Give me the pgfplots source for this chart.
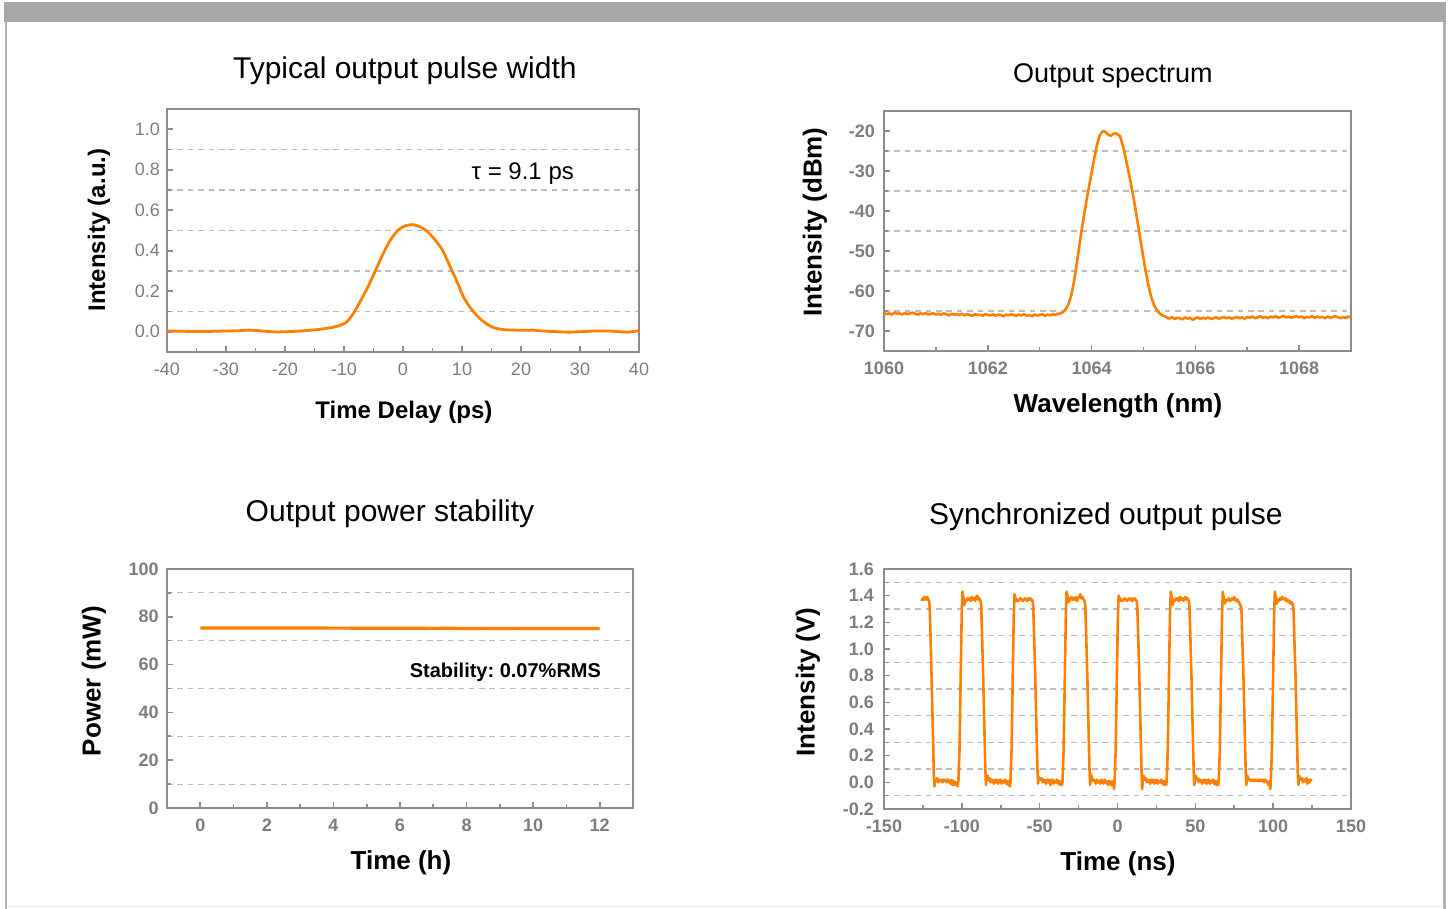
\documentclass[border=0pt]{standalone}
\usepackage{fontspec}
\setmainfont{Liberation Sans}
\usepackage{pgfplots}
\pgfplotsset{compat=1.18}
\definecolor{orng}{RGB}{255,128,0}
\definecolor{axgray}{RGB}{140,140,140}
\definecolor{lblgray}{RGB}{125,125,125}
\definecolor{gridgray}{RGB}{188,188,188}
\definecolor{bargray}{RGB}{168,168,168}
\definecolor{bordgray}{RGB}{178,178,178}

\pgfplotsset{
  panel/.style={
    scale only axis,
    axis line style={axgray, line width=0.9pt},
    tick style={axgray, line width=0.8pt},
    major tick length=3pt, minor tick length=2pt,
    tick align=inside,
    tick pos=left,
    minor tick num=1,
    yminorgrids=true,
    minor y grid style={gridgray, line width=0.55pt, dash pattern=on 2.8pt off 2.4pt},
    /pgf/number format/assume math mode=true,
    /pgf/number format/1000 sep={},
    ticklabel style={text=lblgray, font=\bfseries\fontsize{9}{10}\selectfont},
    xticklabel style={yshift=-1.8pt},
    every axis plot/.append style={orng, line width=1.4pt, line join=round},
    every axis title/.style={anchor=center, font=\fontsize{15}{18}\selectfont},
    every axis x label/.style={anchor=center, font=\bfseries\fontsize{13}{15}\selectfont},
    every axis y label/.style={anchor=center, rotate=90, font=\bfseries\fontsize{13}{15}\selectfont},
  },
  onedec/.style={y tick label style={/pgf/number format/fixed, /pgf/number format/fixed zerofill, /pgf/number format/precision=1}},
}

\begin{document}
\frenchspacing
\begin{tikzpicture}
\useasboundingbox (0,0) rectangle (725.5pt,454.5pt);
\fill[white] (0,0) rectangle (725.5pt,454.5pt);
\fill[bargray] (2pt,443.5pt) rectangle (723pt,453.6pt);
\fill[bordgray] (2.5pt,0) rectangle (3.6pt,443.5pt);
\fill[bordgray] (721.6pt,0) rectangle (722.8pt,443.5pt);
\draw[black!8, line width=0.5pt] (3.6pt,1pt) -- (721.6pt,1pt);

% ---------------- Top left: pulse width ----------------
\begin{axis}[panel, onedec,
  at={(83.5pt,278.5pt)}, anchor=south west,
  width=236pt, height=121.5pt,
  xmin=-40, xmax=40, ymin=-0.1, ymax=1.1,
  xtick={-40,-30,-20,-10,0,10,20,30,40},
  ytick={0,0.2,0.4,0.6,0.8,1.0},
  ticklabel style={font=\mdseries\fontsize{9}{10}\selectfont},
  title={Typical output pulse width},
  title style={at={(axis description cs:0.504,1.157)}},
  xlabel={Time Delay (ps)},
  xlabel style={at={(axis description cs:0.502,-0.247)}, font=\bfseries\fontsize{12}{14}\selectfont},
  ylabel={Intensity (a.u.)},
  ylabel style={at={(axis description cs:-0.144,0.502)}, font=\bfseries\fontsize{12}{14}\selectfont},
]
\addplot[smooth, tension=0.4] coordinates {
(-40,0.004) (-37,0.002) (-34,0.001) (-31,0.003) (-28,0.005) (-26,0.008) (-24,0.004)
(-21.6,-0.001) (-19,0.001) (-17.2,0.004) (-15.5,0.008) (-14.1,0.012) (-12.5,0.019)
(-11,0.028) (-10,0.040) (-9.4,0.053) (-8.5,0.086) (-7.8,0.12) (-7.2,0.152) (-6,0.218)
(-4.7,0.30) (-3.4,0.383) (-2.2,0.45) (-0.9,0.50) (0.3,0.522) (1.6,0.529) (2.8,0.519)
(4.1,0.496) (5.3,0.458) (6.6,0.408) (7.8,0.334) (9.1,0.251) (10.3,0.169) (11.6,0.111)
(12.9,0.069) (14.1,0.040) (15.4,0.020) (17.2,0.010) (20.4,0.007) (22,0.008) (23.5,0.004)
(25.5,0.001) (27.9,-0.002) (30,0.000) (32.9,0.004) (35.4,0.003) (37.9,-0.002) (40,0.005)
};
\node[anchor=center, inner sep=0pt, font=\fontsize{12}{14}\selectfont] at (axis cs:20.3,0.78) {τ = 9.1 ps};
\end{axis}

% ---------------- Top right: spectrum ----------------
\begin{axis}[panel,
  at={(442pt,279pt)}, anchor=south west,
  width=233.5pt, height=120pt,
  xmin=1060, xmax=1069, ymin=-75, ymax=-15,
  xtick={1060,1062,1064,1066,1068},
  ytick={-70,-60,-50,-40,-30,-20},
  yticklabel style={xshift=-1pt},
  title={Output spectrum},
  title style={at={(axis description cs:0.490,1.1455)}, font=\fontsize{13.5}{16}\selectfont},
  xlabel={Wavelength (nm)},
  xlabel style={at={(axis description cs:0.501,-0.2295)}},
  ylabel={Intensity (dBm)},
  ylabel style={at={(axis description cs:-0.148,0.5375)}},
]
\addplot[line width=1.3pt] coordinates {
(1060.00,-65.5) (1060.05,-65.8) (1060.10,-65.6) (1060.15,-65.9) (1060.20,-65.4) (1060.25,-65.7)
(1060.30,-65.6) (1060.35,-65.9) (1060.40,-65.5) (1060.45,-65.8) (1060.50,-65.6) (1060.55,-65.4)
(1060.60,-65.7) (1060.65,-65.9) (1060.70,-65.6) (1060.75,-65.8) (1060.80,-65.5) (1060.85,-65.9)
(1060.90,-65.7) (1060.95,-65.6) (1061.00,-65.9) (1061.05,-65.7) (1061.10,-66.0) (1061.15,-65.6)
(1061.20,-65.8) (1061.25,-66.1) (1061.30,-65.7) (1061.35,-65.9) (1061.40,-65.8) (1061.45,-66.0)
(1061.50,-65.7) (1061.55,-66.1) (1061.60,-65.8) (1061.65,-66.0) (1061.70,-66.2) (1061.75,-65.8)
(1061.80,-66.0) (1061.85,-65.9) (1061.90,-66.2) (1061.95,-65.8) (1062.00,-66.0) (1062.05,-66.1)
(1062.10,-65.8) (1062.15,-66.2) (1062.20,-65.9) (1062.25,-66.0) (1062.30,-66.3) (1062.35,-65.9)
(1062.40,-66.1) (1062.45,-65.8) (1062.50,-66.0) (1062.55,-66.2) (1062.60,-65.9) (1062.65,-66.1)
(1062.70,-65.8) (1062.75,-66.2) (1062.80,-66.0) (1062.85,-66.3) (1062.90,-65.9) (1062.95,-66.1)
(1063.00,-66.0) (1063.05,-65.8) (1063.10,-66.2) (1063.15,-65.9) (1063.20,-66.1) (1063.25,-65.8)
(1063.30,-66.0) (1063.35,-65.7) (1063.40,-65.6)
(1063.45,-65.3) (1063.50,-64.6) (1063.55,-63.4) (1063.60,-61.5) (1063.65,-58.5) (1063.70,-54.5)
(1063.75,-50.0) (1063.80,-45.5) (1063.85,-41.5) (1063.90,-37.5) (1063.95,-34.0) (1064.00,-30.5)
(1064.05,-27.0) (1064.10,-23.8) (1064.15,-21.3) (1064.20,-20.2) (1064.24,-20.0) (1064.28,-20.4)
(1064.33,-21.0) (1064.37,-21.2) (1064.41,-20.8) (1064.46,-20.5) (1064.50,-20.8) (1064.55,-21.3)
(1064.60,-23.5) (1064.65,-26.3) (1064.70,-29.4) (1064.75,-32.6) (1064.80,-36.0) (1064.85,-39.8)
(1064.90,-43.8) (1064.95,-47.8) (1065.00,-51.8) (1065.05,-55.5) (1065.10,-58.8) (1065.15,-61.5)
(1065.20,-63.4) (1065.25,-64.6) (1065.30,-65.5) (1065.35,-66.0) (1065.40,-66.3)
(1065.45,-66.6) (1065.50,-66.9) (1065.55,-66.5) (1065.60,-67.0) (1065.65,-66.7) (1065.70,-66.8)
(1065.75,-67.1) (1065.80,-66.6) (1065.85,-66.9) (1065.90,-66.7) (1065.95,-67.2) (1066.00,-66.8)
(1066.05,-66.6) (1066.10,-67.0) (1066.15,-66.7) (1066.20,-66.9) (1066.25,-66.6) (1066.30,-67.0)
(1066.35,-66.8) (1066.40,-66.6) (1066.45,-66.9) (1066.50,-66.7) (1066.55,-66.5) (1066.60,-66.8)
(1066.65,-66.6) (1066.70,-66.9) (1066.75,-66.7) (1066.80,-66.5) (1066.85,-66.8) (1066.90,-66.6)
(1066.95,-66.9) (1067.00,-66.5) (1067.05,-66.7) (1067.10,-66.4) (1067.15,-66.8) (1067.20,-66.6)
(1067.25,-66.3) (1067.30,-66.7) (1067.35,-66.5) (1067.40,-66.8) (1067.45,-66.4) (1067.50,-66.6)
(1067.55,-66.3) (1067.60,-66.7) (1067.65,-66.5) (1067.70,-66.2) (1067.75,-66.6) (1067.80,-66.4)
(1067.85,-66.7) (1067.90,-66.5) (1067.95,-66.3) (1068.00,-66.6) (1068.05,-66.4) (1068.10,-66.8)
(1068.15,-66.5) (1068.20,-66.6) (1068.25,-66.3) (1068.30,-66.7) (1068.35,-66.4) (1068.40,-66.6)
(1068.45,-66.5) (1068.50,-66.8) (1068.55,-66.4) (1068.60,-66.7) (1068.65,-66.5) (1068.70,-66.3)
(1068.75,-66.6) (1068.80,-66.8) (1068.85,-66.5) (1068.90,-66.7) (1068.95,-66.4) (1069.00,-66.6)
};
\end{axis}

% ---------------- Bottom left: power stability ----------------
\begin{axis}[panel,
  at={(83.5pt,50.5pt)}, anchor=south west,
  width=233pt, height=119.5pt,
  xmin=-1, xmax=13, ymin=0, ymax=100,
  xtick={0,2,4,6,8,10,12},
  ytick={0,20,40,60,80,100},
  yticklabel style={xshift=-0.6pt},
  title={Output power stability},
  title style={at={(axis description cs:0.4785,1.230)}},
  xlabel={Time (h)},
  xlabel style={at={(axis description cs:0.502,-0.2305)}},
  ylabel={Power (mW)},
  ylabel style={at={(axis description cs:-0.157,0.531)}},
]
\addplot[line width=1.6pt] coordinates {
(0,75.3) (0.5,75.3) (1,75.35) (1.5,75.3) (2,75.35) (2.5,75.3) (3,75.35) (3.5,75.3)
(4,75.25) (4.5,75.25) (5,75.2) (5.5,75.25) (6,75.2) (6.5,75.2) (7,75.15) (7.5,75.2)
(8,75.1) (8.5,75.15) (9,75.1) (9.5,75.15) (10,75.1) (10.5,75.1) (11,75.1) (11.5,75.1) (12,75.1)
};
\node[anchor=east, inner sep=0pt, font=\bfseries\fontsize{10}{12}\selectfont] at (axis cs:12.05,56.8) {Stability: 0.07\%RMS};
\end{axis}

% ---------------- Bottom right: pulse train ----------------
\begin{axis}[panel, onedec,
  at={(442pt,50pt)}, anchor=south west,
  width=233.5pt, height=120pt,
  xmin=-150, xmax=150, ymin=-0.2, ymax=1.6,
  xtick={-150,-100,-50,0,50,100,150},
  ytick={-0.2,0,0.2,0.4,0.6,0.8,1.0,1.2,1.4,1.6},
  yticklabel style={xshift=-1.5pt},
  title={Synchronized output pulse},
  title style={at={(axis description cs:0.475,1.2165)}},
  xlabel={Time (ns)},
  xlabel style={at={(axis description cs:0.501,-0.2295)}},
  ylabel={Intensity (V)},
  ylabel style={at={(axis description cs:-0.163,0.529)}},
]
\addplot[line width=1.3pt] coordinates {
(-125.8,1.36) (-125.2,1.38) (-124.6,1.37) (-124.0,1.39) (-123.4,1.37) (-122.8,1.38) (-122.2,1.39)
(-121.6,1.37) (-121.0,1.36) (-120.6,1.30) (-120.0,1.05) (-119.3,0.72) (-118.6,0.38) (-118.0,0.06)
(-117.6,-0.03) (-117.1,0.02) (-116.5,0.01) (-115.8,0.03) (-115.1,0.00) (-114.4,0.02) (-113.7,0.01)
(-113.0,0.02) (-112.3,0.00) (-111.6,0.02) (-110.9,0.01) (-110.2,0.02) (-109.5,0.00) (-108.8,0.02)
(-108.1,0.01) (-107.4,-0.01) (-106.7,0.02) (-106.0,-0.02) (-105.3,0.01) (-104.6,-0.02) (-103.9,0.00)
(-103.2,-0.02) (-102.7,-0.03)
(-102.2,0.01) (-101.5,0.25) (-100.8,0.75) (-100.1,1.25) (-99.6,1.43) (-99.0,1.39) (-98.4,1.33)
(-97.8,1.37) (-97.1,1.36) (-96.4,1.38) (-95.7,1.37) (-95.0,1.38) (-94.3,1.36) (-93.6,1.39)
(-92.9,1.37) (-92.2,1.38) (-91.5,1.36) (-90.8,1.39) (-90.1,1.40) (-89.4,1.37) (-88.7,1.38)
(-88.0,1.36) (-87.6,1.33) (-87.0,1.10) (-86.3,0.80) (-85.6,0.45) (-84.9,0.10) (-84.5,-0.02)
(-84.0,0.04) (-83.5,0.05) (-82.9,0.02) (-82.2,0.03) (-81.5,0.00) (-80.8,0.02) (-80.1,0.01)
(-79.4,-0.01) (-78.7,0.02) (-78.0,0.00) (-77.3,0.02) (-76.6,-0.01) (-75.9,0.01) (-75.2,0.02)
(-74.5,-0.01) (-73.8,0.01) (-73.1,0.00) (-72.4,0.02) (-71.7,-0.01) (-71.0,0.01) (-70.3,-0.02)
(-69.6,0.01) (-69.1,-0.03)
(-68.75,0.01) (-68.05,0.25) (-67.35,0.75) (-66.65,1.25) (-66.15,1.41) (-65.55,1.38) (-64.95,1.36)
(-64.35,1.37) (-63.65,1.36) (-62.95,1.37) (-62.25,1.38) (-61.55,1.37) (-60.85,1.36) (-60.15,1.37)
(-59.45,1.38) (-58.75,1.37) (-58.05,1.36) (-57.35,1.38) (-56.65,1.37) (-55.95,1.38) (-55.25,1.37)
(-54.55,1.36) (-54.15,1.32) (-53.55,1.10) (-52.85,0.80) (-52.15,0.45) (-51.45,0.10) (-51.05,-0.01)
(-50.55,0.04) (-50.05,0.03) (-49.45,0.02) (-48.75,0.03) (-48.05,0.00) (-47.35,0.02) (-46.65,0.01)
(-45.95,-0.01) (-45.25,0.02) (-44.55,0.00) (-43.85,0.02) (-43.15,-0.02) (-42.45,0.01) (-41.75,0.02)
(-41.05,-0.01) (-40.35,0.01) (-39.65,0.00) (-38.95,0.02) (-38.25,-0.01) (-37.55,0.01) (-36.85,-0.02)
(-36.15,0.01) (-35.65,-0.02)
(-35.3,0.01) (-34.6,0.25) (-33.9,0.75) (-33.2,1.25) (-32.7,1.43) (-32.1,1.40) (-31.5,1.35)
(-30.9,1.38) (-30.2,1.37) (-29.5,1.39) (-28.8,1.37) (-28.1,1.38) (-27.4,1.37) (-26.7,1.39)
(-26.0,1.36) (-25.3,1.38) (-24.6,1.39) (-23.9,1.41) (-23.2,1.38) (-22.5,1.39) (-21.8,1.37)
(-21.1,1.36) (-20.7,1.32) (-20.1,1.10) (-19.4,0.80) (-18.7,0.45) (-18.0,0.10) (-17.6,-0.02)
(-17.1,0.06) (-16.6,0.04) (-16.0,0.01) (-15.3,0.02) (-14.6,0.01) (-13.9,-0.01) (-13.2,0.02)
(-12.5,0.00) (-11.8,0.01) (-11.1,-0.01) (-10.4,0.02) (-9.7,0.01) (-9.0,-0.01) (-8.3,0.02)
(-7.6,0.00) (-6.9,0.01) (-6.2,-0.02) (-5.5,0.01) (-4.8,0.00) (-4.1,-0.02) (-3.4,0.01)
(-2.7,-0.01) (-2.2,-0.05)
(-1.85,0.01) (-1.15,0.25) (-0.45,0.75) (0.25,1.25) (0.75,1.40) (1.35,1.38) (1.95,1.36)
(2.55,1.37) (3.25,1.36) (3.95,1.37) (4.65,1.38) (5.35,1.37) (6.05,1.36) (6.75,1.37)
(7.45,1.38) (8.15,1.37) (8.85,1.38) (9.55,1.36) (10.25,1.37) (10.95,1.38) (11.65,1.37)
(12.35,1.36) (12.75,1.30) (13.35,1.08) (14.05,0.78) (14.75,0.42) (15.45,0.08) (15.85,-0.05)
(16.35,0.03) (16.85,0.05) (17.45,0.02) (18.15,0.03) (18.85,0.00) (19.55,0.02) (20.25,0.01)
(20.95,-0.01) (21.65,0.02) (22.35,0.00) (23.05,0.02) (23.75,-0.01) (24.45,0.01) (25.15,0.02)
(25.85,-0.01) (26.55,0.01) (27.25,0.00) (27.95,0.02) (28.65,-0.01) (29.35,0.01) (30.05,-0.02)
(30.75,0.01) (31.25,-0.02)
(31.6,0.01) (32.3,0.25) (33.0,0.75) (33.7,1.25) (34.2,1.43) (34.8,1.39) (35.4,1.33)
(36.0,1.37) (36.7,1.36) (37.4,1.38) (38.1,1.37) (38.8,1.38) (39.5,1.36) (40.2,1.39)
(40.9,1.37) (41.6,1.38) (42.3,1.36) (43.0,1.38) (43.7,1.39) (44.4,1.37) (45.1,1.38)
(45.8,1.36) (46.2,1.32) (46.8,1.10) (47.5,0.80) (48.2,0.45) (48.9,0.10) (49.3,-0.02)
(49.8,0.04) (50.3,0.05) (50.9,0.02) (51.6,0.03) (52.3,0.00) (53.0,0.02) (53.7,0.01)
(54.4,-0.01) (55.1,0.02) (55.8,0.00) (56.5,0.02) (57.2,-0.01) (57.9,0.01) (58.6,0.02)
(59.3,-0.01) (60.0,0.01) (60.7,0.00) (61.4,0.02) (62.1,-0.01) (62.8,0.01) (63.5,-0.02)
(64.2,0.01) (64.7,-0.02)
(65.05,0.01) (65.75,0.25) (66.45,0.75) (67.15,1.25) (67.65,1.43) (68.25,1.38) (68.85,1.34)
(69.45,1.37) (70.15,1.36) (70.85,1.37) (71.55,1.38) (72.25,1.36) (72.95,1.37) (73.65,1.38)
(74.35,1.37) (75.05,1.39) (75.75,1.37) (76.45,1.36) (77.15,1.37) (77.85,1.35) (78.55,1.34)
(79.25,1.32) (79.65,1.28) (80.25,1.05) (80.95,0.78) (81.65,0.42) (82.35,0.08) (82.75,-0.02)
(83.25,0.05) (83.75,0.04) (84.35,0.02) (85.05,0.02) (85.75,0.01) (86.45,0.02) (87.15,0.01)
(87.85,0.02) (88.55,0.01) (89.25,0.02) (89.95,0.01) (90.65,0.02) (91.35,0.01) (92.05,0.02)
(92.75,0.01) (93.45,0.02) (94.15,0.00) (94.85,0.02) (95.55,0.01) (96.25,0.00) (96.95,-0.02)
(97.65,0.01) (98.15,-0.05)
(98.5,0.01) (99.2,0.25) (99.9,0.75) (100.6,1.25) (101.1,1.43) (101.7,1.39) (102.3,1.34)
(102.9,1.37) (103.6,1.36) (104.3,1.38) (105.0,1.37) (105.7,1.39) (106.4,1.38) (107.1,1.37)
(107.8,1.38) (108.5,1.36) (109.2,1.37) (109.9,1.35) (110.6,1.36) (111.3,1.34) (112.0,1.35)
(112.7,1.33) (113.1,1.28) (113.7,1.05) (114.4,0.78) (115.1,0.42) (115.8,0.08) (116.2,-0.02)
(116.7,0.05) (117.2,0.03) (117.8,0.02) (118.5,0.03) (119.2,0.00) (119.9,0.02) (120.6,0.01)
(121.3,0.03) (122.0,-0.01) (122.7,0.02) (123.4,0.00) (124.1,0.02) (124.7,0.01)
};
\end{axis}
\end{tikzpicture}
\end{document}
